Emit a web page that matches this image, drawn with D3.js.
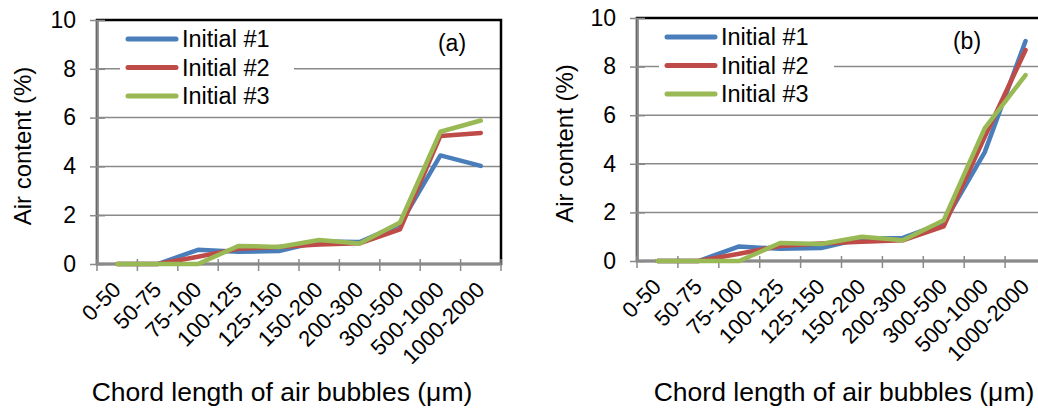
<!DOCTYPE html>
<html><head><meta charset="utf-8">
<script src="https://cdn.jsdelivr.net/npm/d3@7"></script>
<style>
html,body{margin:0;padding:0;background:#fff;}
svg{display:block;font-family:"Liberation Sans",Arial,sans-serif;}
</style></head>
<body><svg id="c" width="1038" height="412"></svg>
<script>
const categories = ["0-50","50-75","75-100","100-125","125-150","150-200","200-300","300-500","500-1000","1000-2000"];
const seriesNames = ["Initial #1","Initial #2","Initial #3"];
const colors = ["#4A7EBB","#BE4B48","#98B954"];
const yTicks = [0,2,4,6,8,10];
const a1 = [0,0,0.58,0.5,0.53,0.92,0.9,1.62,4.45,4.02];
const a2 = [0,0,0.3,0.62,0.7,0.8,0.85,1.42,5.25,5.37];
const a3 = [0,0,0,0.74,0.7,0.98,0.84,1.7,5.42,5.88];
const b1 = [0,0,0.6,0.5,0.53,0.92,0.95,1.57,4.47,9.05];
const b2 = [0,0,0.3,0.62,0.72,0.79,0.85,1.43,5.1,8.68];
const b3 = [0,0,0,0.74,0.7,1.0,0.85,1.68,5.46,7.65];

const panels = [
  {tag:"(a)", series:[a1,a2,a3], left:97, right:501, top:20, bottom:264, tagX:452, ytX:23, xtX:282, legX:128, legW:166},
  {tag:"(b)", series:[b1,b2,b3], left:637, right:1046, top:18, bottom:261, tagX:967, ytX:565, xtX:844, legX:667, legW:167}
];
const svg = d3.select("#c");
const FF = '"Liberation Sans", Arial, sans-serif';

panels.forEach(p => {
  const g = svg.append("g");
  const x = d3.scaleBand().domain(categories).range([p.left, p.right]);
  const y = d3.scaleLinear().domain([0,10]).range([p.bottom, p.top]);

  g.selectAll(".grid").data(yTicks.filter(t => t>0 && t<10)).join("line")
    .attr("x1", p.left).attr("x2", p.right)
    .attr("y1", d => y(d)).attr("y2", d => y(d))
    .attr("stroke", "#8a8a8a").attr("stroke-width", 1.5);

  g.append("rect").attr("x", p.left).attr("y", p.top)
    .attr("width", p.right - p.left).attr("height", p.bottom - p.top)
    .attr("fill", "none").attr("stroke", "#000").attr("stroke-width", 2.5);

  const ya = g.append("g").attr("transform", `translate(${p.left},0)`)
    .call(d3.axisLeft(y).tickValues(yTicks).tickSizeInner(7).tickSizeOuter(0).tickPadding(14));
  ya.select(".domain").attr("stroke", "#8a8a8a").attr("stroke-width", 2.5);
  ya.selectAll(".tick line").attr("x1", 8).attr("stroke", "#8a8a8a").attr("stroke-width", 1.5);
  ya.selectAll(".tick text").attr("font-size", 23).attr("fill", "#000").attr("font-family", FF);

  g.append("line").attr("x1", p.left).attr("x2", p.right)
    .attr("y1", p.bottom).attr("y2", p.bottom)
    .attr("stroke", "#8a8a8a").attr("stroke-width", 2.5);
  const bounds = categories.map(c => x(c)).concat([x.range()[1]]);
  g.selectAll(".xt").data(bounds).join("line")
    .attr("x1", d => d).attr("x2", d => d)
    .attr("y1", p.bottom - 5).attr("y2", p.bottom + 7)
    .attr("stroke", "#8a8a8a").attr("stroke-width", 1.5);
  g.selectAll(".xl").data(categories).join("text")
    .attr("transform", d => `translate(${x(d) + x.bandwidth()/2 + 5},${p.bottom + 27}) rotate(-45)`)
    .attr("text-anchor", "end").attr("font-size", 22).attr("fill", "#000")
    .text(d => d);

  const line = d3.line().x((d,i) => x(categories[i]) + x.bandwidth()/2).y(d => y(d));
  p.series.forEach((s, k) => {
    g.append("path").datum(s).attr("d", line)
      .attr("fill", "none").attr("stroke", colors[k]).attr("stroke-width", 4.5)
      .attr("stroke-linejoin", "round").attr("stroke-linecap", "round");
  });

  g.append("rect").attr("x", p.legX - 8).attr("y", p.top + 6)
    .attr("width", p.legW + 8).attr("height", 88).attr("fill", "#fff");
  seriesNames.forEach((n, k) => {
    const ly = p.top + 19 + k * 28.5;
    g.append("line").attr("x1", p.legX).attr("x2", p.legX + 48)
      .attr("y1", ly).attr("y2", ly)
      .attr("stroke", colors[k]).attr("stroke-width", 5).attr("stroke-linecap", "round");
    g.append("text").attr("x", p.legX + 54).attr("y", ly + 8)
      .attr("font-size", 23.5).attr("fill", "#000").text(n);
  });

  g.append("text").attr("x", p.tagX).attr("y", p.top + 31)
    .attr("text-anchor", "middle").attr("font-size", 23).attr("fill", "#000").text(p.tag);

  g.append("text").attr("transform", `translate(${p.ytX + 8},${(p.top + p.bottom)/2 + 4}) rotate(-90)`)
    .attr("text-anchor", "middle").attr("font-size", 24).attr("fill", "#000").text("Air content (%)");
  g.append("text").attr("x", p.xtX).attr("y", 401)
    .attr("text-anchor", "middle").attr("font-size", 26.5).attr("fill", "#000").text("Chord length of air bubbles (μm)");
});
</script></body></html>
